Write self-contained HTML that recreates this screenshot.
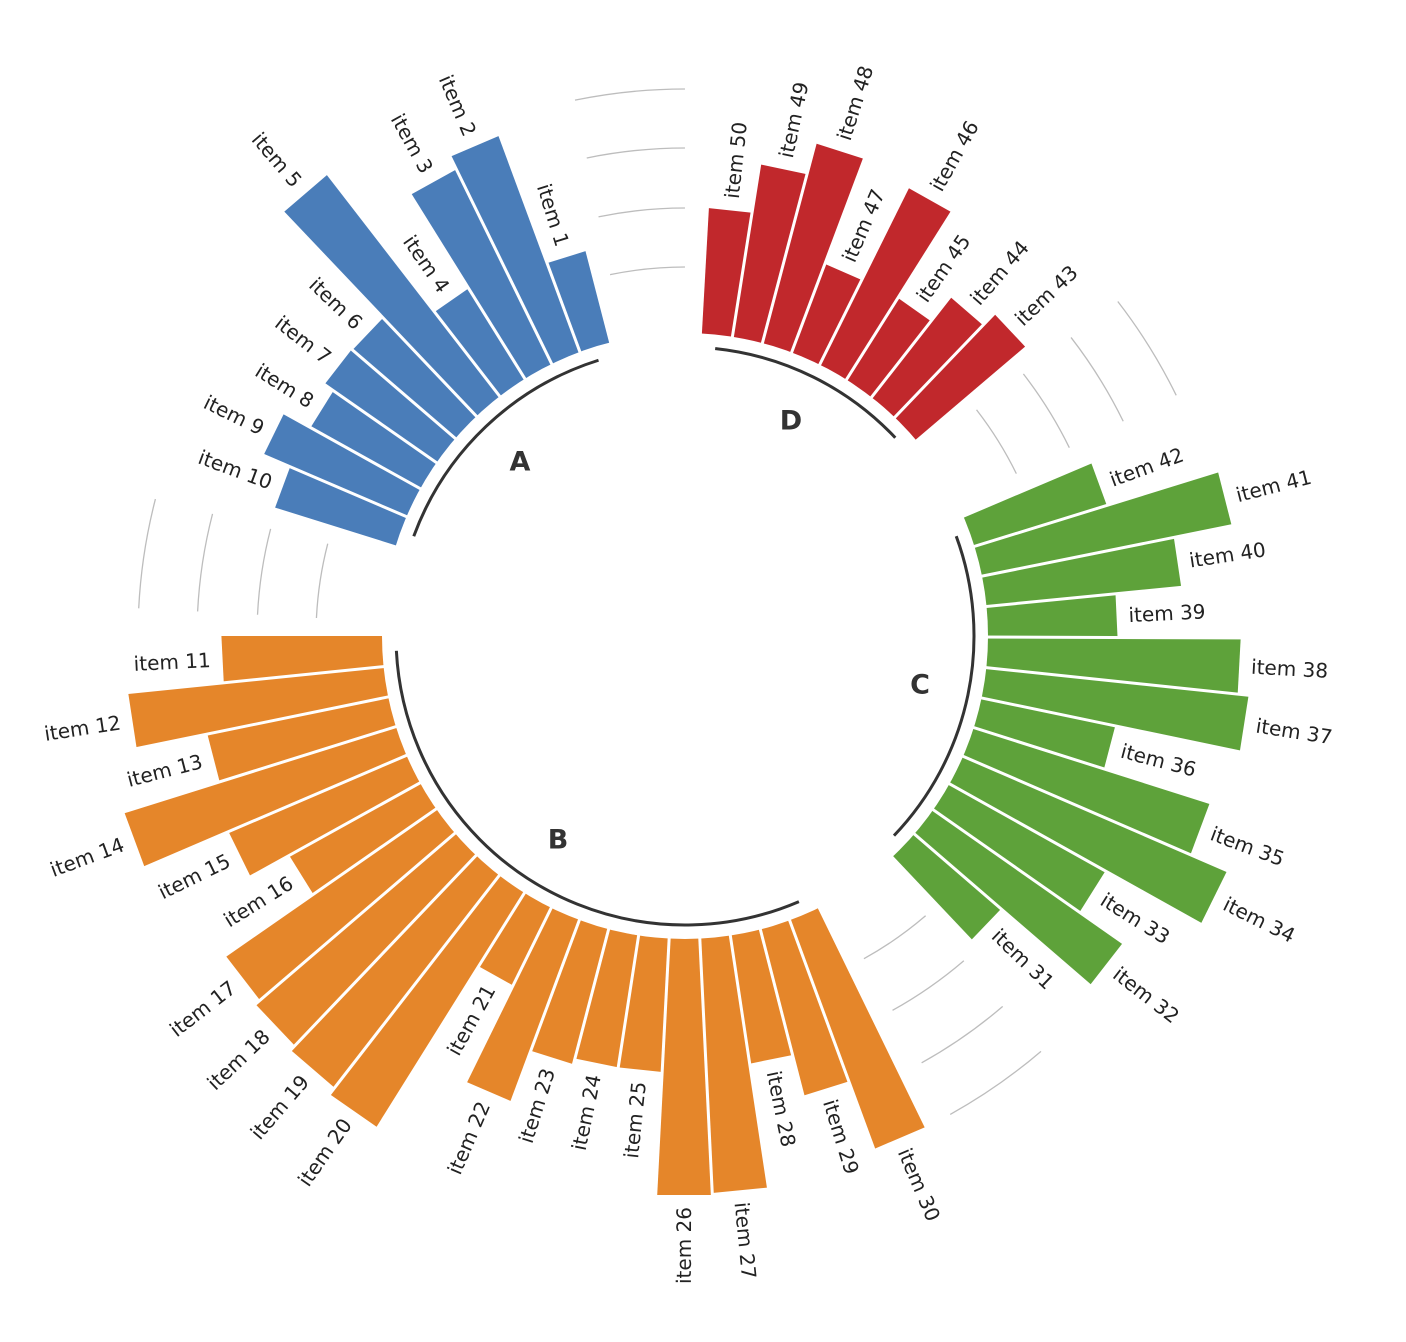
<!DOCTYPE html>
<html><head><meta charset="utf-8"><style>
html,body{margin:0;padding:0;background:#fff}
svg{display:block}
text{font-family:"DejaVu Sans","Liberation Sans",sans-serif}
</style></head><body>
<svg width="1406" height="1342" viewBox="0 0 1406 1342" xmlns="http://www.w3.org/2000/svg">
<defs>
<path id="w" d="M0 0 L1 -0.0507 L1 0.0507 Z"/>
</defs>
<g transform="translate(685,636)">
<g fill="none" stroke="#bdbdbd" stroke-width="1.3">
<circle r="369" pathLength="360" stroke-dasharray="11.6 348.4" transform="rotate(-177.1)"/>
<circle r="428" pathLength="360" stroke-dasharray="11.6 348.4" transform="rotate(-177.1)"/>
<circle r="488" pathLength="360" stroke-dasharray="11.6 348.4" transform="rotate(-177.1)"/>
<circle r="547" pathLength="360" stroke-dasharray="11.6 348.4" transform="rotate(-177.1)"/>
<circle r="369" pathLength="360" stroke-dasharray="11.6 348.4" transform="rotate(-101.6)"/>
<circle r="428" pathLength="360" stroke-dasharray="11.6 348.4" transform="rotate(-101.6)"/>
<circle r="488" pathLength="360" stroke-dasharray="11.6 348.4" transform="rotate(-101.6)"/>
<circle r="547" pathLength="360" stroke-dasharray="11.6 348.4" transform="rotate(-101.6)"/>
<circle r="369" pathLength="360" stroke-dasharray="11.6 348.4" transform="rotate(-37.7)"/>
<circle r="428" pathLength="360" stroke-dasharray="11.6 348.4" transform="rotate(-37.7)"/>
<circle r="488" pathLength="360" stroke-dasharray="11.6 348.4" transform="rotate(-37.7)"/>
<circle r="547" pathLength="360" stroke-dasharray="11.6 348.4" transform="rotate(-37.7)"/>
<circle r="369" pathLength="360" stroke-dasharray="11.6 348.4" transform="rotate(-310.6)"/>
<circle r="428" pathLength="360" stroke-dasharray="11.6 348.4" transform="rotate(-310.6)"/>
<circle r="488" pathLength="360" stroke-dasharray="11.6 348.4" transform="rotate(-310.6)"/>
<circle r="547" pathLength="360" stroke-dasharray="11.6 348.4" transform="rotate(-310.6)"/>
</g>
<g stroke="none">
<g fill="#4a7db9">
<use href="#w" transform="rotate(-107.4) scale(397)"/>
<use href="#w" transform="rotate(-113.2) scale(533)"/>
<use href="#w" transform="rotate(-119.0) scale(519)"/>
<use href="#w" transform="rotate(-124.8) scale(409)"/>
<use href="#w" transform="rotate(-130.6) scale(583)"/>
<use href="#w" transform="rotate(-136.4) scale(438)"/>
<use href="#w" transform="rotate(-142.2) scale(439)"/>
<use href="#w" transform="rotate(-148.0) scale(428)"/>
<use href="#w" transform="rotate(-153.9) scale(458)"/>
<use href="#w" transform="rotate(-159.7) scale(429)"/>
</g>
<g fill="#e5862a">
<use href="#w" transform="rotate(-182.9) scale(463)"/>
<use href="#w" transform="rotate(-188.7) scale(559)"/>
<use href="#w" transform="rotate(-194.5) scale(487)"/>
<use href="#w" transform="rotate(-200.3) scale(587)"/>
<use href="#w" transform="rotate(-206.1) scale(496)"/>
<use href="#w" transform="rotate(-211.9) scale(452)"/>
<use href="#w" transform="rotate(-217.7) scale(559)"/>
<use href="#w" transform="rotate(-223.5) scale(565)"/>
<use href="#w" transform="rotate(-229.3) scale(571)"/>
<use href="#w" transform="rotate(-235.1) scale(579)"/>
<use href="#w" transform="rotate(-240.9) scale(389)"/>
<use href="#w" transform="rotate(-246.7) scale(496)"/>
<use href="#w" transform="rotate(-252.5) scale(442)"/>
<use href="#w" transform="rotate(-258.3) scale(436)"/>
<use href="#w" transform="rotate(-264.1) scale(436)"/>
<use href="#w" transform="rotate(-269.9) scale(559)"/>
<use href="#w" transform="rotate(-275.7) scale(557)"/>
<use href="#w" transform="rotate(-281.5) scale(432)"/>
<use href="#w" transform="rotate(-287.3) scale(474)"/>
<use href="#w" transform="rotate(-293.1) scale(546)"/>
</g>
<g fill="#5ea23a">
<use href="#w" transform="rotate(-316.3) scale(417)"/>
<use href="#w" transform="rotate(-322.1) scale(534)"/>
<use href="#w" transform="rotate(-327.9) scale(481)"/>
<use href="#w" transform="rotate(-333.7) scale(590)"/>
<use href="#w" transform="rotate(-339.5) scale(550)"/>
<use href="#w" transform="rotate(-345.3) scale(439)"/>
<use href="#w" transform="rotate(-351.1) scale(566)"/>
<use href="#w" transform="rotate(-356.9) scale(555)"/>
<use href="#w" transform="rotate(-362.7) scale(432)"/>
<use href="#w" transform="rotate(-368.5) scale(498)"/>
<use href="#w" transform="rotate(-374.3) scale(557)"/>
<use href="#w" transform="rotate(-380.1) scale(441)"/>
</g>
<g fill="#c1282c">
<use href="#w" transform="rotate(-403.3) scale(446)"/>
<use href="#w" transform="rotate(-409.1) scale(430)"/>
<use href="#w" transform="rotate(-414.9) scale(399)"/>
<use href="#w" transform="rotate(-420.7) scale(500)"/>
<use href="#w" transform="rotate(-426.5) scale(397)"/>
<use href="#w" transform="rotate(-432.3) scale(509)"/>
<use href="#w" transform="rotate(-438.1) scale(477)"/>
<use href="#w" transform="rotate(-443.9) scale(428)"/>
</g>
</g>
<!-- white separators between adjacent bars -->
<g stroke="#fff" stroke-width="3">
<line x2="620" transform="rotate(-110.3)"/><line x2="620" transform="rotate(-116.1)"/><line x2="620" transform="rotate(-121.9)"/>
<line x2="620" transform="rotate(-127.7)"/><line x2="620" transform="rotate(-133.5)"/><line x2="620" transform="rotate(-139.3)"/>
<line x2="620" transform="rotate(-145.1)"/><line x2="620" transform="rotate(-150.9)"/><line x2="620" transform="rotate(-156.8)"/>
<line x2="620" transform="rotate(-185.8)"/><line x2="620" transform="rotate(-191.6)"/><line x2="620" transform="rotate(-197.4)"/>
<line x2="620" transform="rotate(-203.2)"/><line x2="620" transform="rotate(-209.0)"/><line x2="620" transform="rotate(-214.8)"/>
<line x2="620" transform="rotate(-220.6)"/><line x2="620" transform="rotate(-226.4)"/><line x2="620" transform="rotate(-232.2)"/>
<line x2="620" transform="rotate(-238.0)"/><line x2="620" transform="rotate(-243.8)"/><line x2="620" transform="rotate(-249.6)"/>
<line x2="620" transform="rotate(-255.4)"/><line x2="620" transform="rotate(-261.2)"/><line x2="620" transform="rotate(-267.0)"/>
<line x2="620" transform="rotate(-272.8)"/><line x2="620" transform="rotate(-278.6)"/><line x2="620" transform="rotate(-284.4)"/>
<line x2="620" transform="rotate(-290.2)"/>
<line x2="620" transform="rotate(-319.2)"/><line x2="620" transform="rotate(-325.0)"/><line x2="620" transform="rotate(-330.8)"/>
<line x2="620" transform="rotate(-336.6)"/><line x2="620" transform="rotate(-342.4)"/><line x2="620" transform="rotate(-348.2)"/>
<line x2="620" transform="rotate(-354.0)"/><line x2="620" transform="rotate(-359.8)"/><line x2="620" transform="rotate(-365.6)"/>
<line x2="620" transform="rotate(-371.4)"/><line x2="620" transform="rotate(-377.2)"/>
<line x2="620" transform="rotate(-406.2)"/><line x2="620" transform="rotate(-412.0)"/><line x2="620" transform="rotate(-417.8)"/>
<line x2="620" transform="rotate(-423.6)"/><line x2="620" transform="rotate(-429.4)"/><line x2="620" transform="rotate(-435.2)"/>
<line x2="620" transform="rotate(-441.0)"/>
</g>
<circle r="303" fill="#fff"/>
<g fill="none" stroke="#333" stroke-width="3">
<circle r="289" pathLength="360" stroke-dasharray="52.3 307.7" transform="rotate(-159.7)"/>
<circle r="289" pathLength="360" stroke-dasharray="110.2 249.8" transform="rotate(-293.1)"/>
<circle r="289" pathLength="360" stroke-dasharray="63.8 296.2" transform="rotate(-380.1)"/>
<circle r="289" pathLength="360" stroke-dasharray="40.6 319.4" transform="rotate(-83.9)"/>
</g>
<g font-size="27" font-weight="bold" fill="#333" text-anchor="middle" dominant-baseline="central">
<text x="-165" y="-174">A</text>
<text x="-127" y="204">B</text>
<text x="235" y="49">C</text>
<text x="106" y="-215">D</text>
</g>
<g font-size="20" fill="#222" dominant-baseline="central">
<text text-anchor="end" transform="rotate(-107.4) translate(409,0) rotate(180)">item 1</text>
<text text-anchor="end" transform="rotate(-113.2) translate(545,0) rotate(180)">item 2</text>
<text text-anchor="end" transform="rotate(-119.0) translate(531,0) rotate(180)">item 3</text>
<text text-anchor="end" transform="rotate(-124.8) translate(421,0) rotate(180)">item 4</text>
<text text-anchor="end" transform="rotate(-130.6) translate(595,0) rotate(180)">item 5</text>
<text text-anchor="end" transform="rotate(-136.4) translate(450,0) rotate(180)">item 6</text>
<text text-anchor="end" transform="rotate(-142.2) translate(451,0) rotate(180)">item 7</text>
<text text-anchor="end" transform="rotate(-148.0) translate(440,0) rotate(180)">item 8</text>
<text text-anchor="end" transform="rotate(-153.9) translate(470,0) rotate(180)">item 9</text>
<text text-anchor="end" transform="rotate(-159.7) translate(441,0) rotate(180)">item 10</text>
<text text-anchor="end" transform="rotate(-182.9) translate(475,0) rotate(180)">item 11</text>
<text text-anchor="end" transform="rotate(-188.7) translate(571,0) rotate(180)">item 12</text>
<text text-anchor="end" transform="rotate(-194.5) translate(499,0) rotate(180)">item 13</text>
<text text-anchor="end" transform="rotate(-200.3) translate(599,0) rotate(180)">item 14</text>
<text text-anchor="end" transform="rotate(-206.1) translate(508,0) rotate(180)">item 15</text>
<text text-anchor="end" transform="rotate(-211.9) translate(464,0) rotate(180)">item 16</text>
<text text-anchor="end" transform="rotate(-217.7) translate(571,0) rotate(180)">item 17</text>
<text text-anchor="end" transform="rotate(-223.5) translate(577,0) rotate(180)">item 18</text>
<text text-anchor="end" transform="rotate(-229.3) translate(583,0) rotate(180)">item 19</text>
<text text-anchor="end" transform="rotate(-235.1) translate(591,0) rotate(180)">item 20</text>
<text text-anchor="end" transform="rotate(-240.9) translate(401,0) rotate(180)">item 21</text>
<text text-anchor="end" transform="rotate(-246.7) translate(508,0) rotate(180)">item 22</text>
<text text-anchor="end" transform="rotate(-252.5) translate(454,0) rotate(180)">item 23</text>
<text text-anchor="end" transform="rotate(-258.3) translate(448,0) rotate(180)">item 24</text>
<text text-anchor="end" transform="rotate(-264.1) translate(448,0) rotate(180)">item 25</text>
<text text-anchor="end" transform="rotate(-269.9) translate(571,0) rotate(180)">item 26</text>
<text transform="rotate(-275.7) translate(569,0)">item 27</text>
<text transform="rotate(-281.5) translate(444,0)">item 28</text>
<text transform="rotate(-287.3) translate(486,0)">item 29</text>
<text transform="rotate(-293.1) translate(558,0)">item 30</text>
<text transform="rotate(-316.3) translate(429,0)">item 31</text>
<text transform="rotate(-322.1) translate(546,0)">item 32</text>
<text transform="rotate(-327.9) translate(493,0)">item 33</text>
<text transform="rotate(-333.7) translate(602,0)">item 34</text>
<text transform="rotate(-339.5) translate(562,0)">item 35</text>
<text transform="rotate(-345.3) translate(451,0)">item 36</text>
<text transform="rotate(-351.1) translate(578,0)">item 37</text>
<text transform="rotate(-356.9) translate(567,0)">item 38</text>
<text transform="rotate(-362.7) translate(444,0)">item 39</text>
<text transform="rotate(-368.5) translate(510,0)">item 40</text>
<text transform="rotate(-374.3) translate(569,0)">item 41</text>
<text transform="rotate(-380.1) translate(453,0)">item 42</text>
<text transform="rotate(-403.3) translate(458,0)">item 43</text>
<text transform="rotate(-409.1) translate(442,0)">item 44</text>
<text transform="rotate(-414.9) translate(411,0)">item 45</text>
<text transform="rotate(-420.7) translate(512,0)">item 46</text>
<text transform="rotate(-426.5) translate(409,0)">item 47</text>
<text transform="rotate(-432.3) translate(521,0)">item 48</text>
<text transform="rotate(-438.1) translate(489,0)">item 49</text>
<text transform="rotate(-443.9) translate(440,0)">item 50</text>
</g>
</g>
</svg>
</body></html>
